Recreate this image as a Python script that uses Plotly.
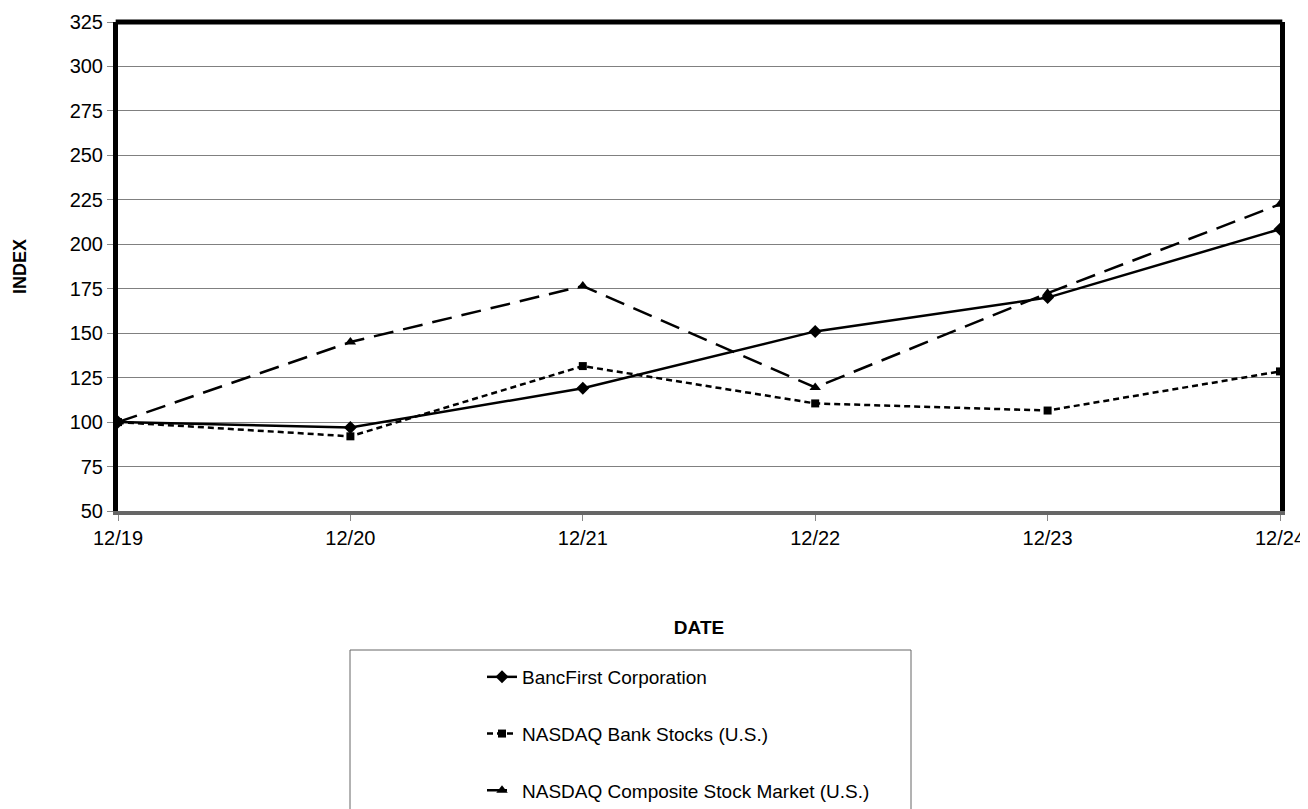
import plotly.graph_objects as go

dates = ["12/19", "12/20", "12/21", "12/22", "12/23", "12/24"]
bancfirst = [100, 97, 119, 151, 170, 208.5]
bank_stocks = [100, 92, 131.5, 110.5, 106.5, 128.5]
composite = [100, 145, 176.5, 119.5, 172.5, 222.5]
yticks = [50, 75, 100, 125, 150, 175, 200, 225, 250, 275, 300, 325]

xs = list(range(len(dates)))
FONT = "Liberation Sans, Arial, sans-serif"

fig = go.Figure()
fig.add_trace(go.Scatter(
    x=xs, y=bancfirst, name="BancFirst Corporation", mode="lines+markers",
    line=dict(color="black", width=2.5),
    marker=dict(symbol="diamond", size=10, color="black"),
    legendgroup="a"))
fig.add_trace(go.Scatter(
    x=xs, y=bank_stocks, name="NASDAQ Bank Stocks (U.S.)", mode="lines+markers",
    line=dict(color="black", width=2.5, dash="6px,4px"),
    marker=dict(symbol="square", size=8, color="black"),
    legendgroup="b"))
fig.add_trace(go.Scatter(
    x=xs, y=composite, name="NASDAQ Composite Stock Market (U.S.)", mode="lines+markers",
    line=dict(color="black", width=2.5, dash="20px,10px"),
    marker=dict(symbol="triangle-up", size=10, color="black"),
    legendgroup="c"))

OFF = 8  # page body margin
W, H = 1308 - OFF, 809 - OFF
# reference pixel positions of plot area
RL, RR, RT, RB = 118, 1280, 22, 511
L, T = RL - OFF, RT - OFF
R = W - (RR - OFF)
B = H - (RB - OFF)
pw, ph = W - L - R, H - T - B

def px_to_paper_x(p):
    return (p - OFF - L) / pw

def px_to_paper_y(p):
    return (H - B - (p - OFF)) / ph

fig.update_layout(
    width=W, height=H,
    margin=dict(l=L, r=R, t=T, b=B, autoexpand=False),
    paper_bgcolor="white", plot_bgcolor="white",
    font=dict(family=FONT, size=20, color="black"),
    showlegend=True,
    legend=dict(
        x=px_to_paper_x(482), y=px_to_paper_y(658),
        xanchor="left", yanchor="top",
        font=dict(size=19, family=FONT),
        bgcolor="rgba(0,0,0,0)", borderwidth=0,
        tracegroupgap=29,
    ),
    xaxis=dict(
        range=[0, 5], tickmode="array", tickvals=xs, ticktext=dates,
        showgrid=False, zeroline=False,
        showline=True, linecolor="#666666", linewidth=4,
        ticks="outside", ticklen=6, tickcolor="#888888", tickwidth=1,
        tickfont=dict(size=20), ticklabeloverflow="allow",
        title=dict(text="<b>DATE</b>", font=dict(size=19), standoff=74),
    ),
    yaxis=dict(
        range=[50, 325], tickmode="array", tickvals=yticks,
        showgrid=True, gridcolor="#808080", gridwidth=1,
        zeroline=False,
        showline=True, linecolor="black", linewidth=5, mirror=True,
        ticks="outside", ticklen=6, tickcolor="#888888", tickwidth=1,
        tickfont=dict(size=20),
        title=dict(text="<b>INDEX</b>", font=dict(size=18), standoff=40),
    ),
    shapes=[
        dict(type="line", xref="paper", yref="paper", x0=-0.002, x1=1.002, y0=1, y1=1,
             line=dict(color="black", width=5), layer="above"),
        dict(type="rect", xref="paper", yref="paper",
             x0=px_to_paper_x(350), x1=px_to_paper_x(911),
             y0=px_to_paper_y(650), y1=px_to_paper_y(830),
             line=dict(color="#666666", width=1), fillcolor="rgba(0,0,0,0)", layer="below"),
    ],
)

fig.write_html("out.html")
